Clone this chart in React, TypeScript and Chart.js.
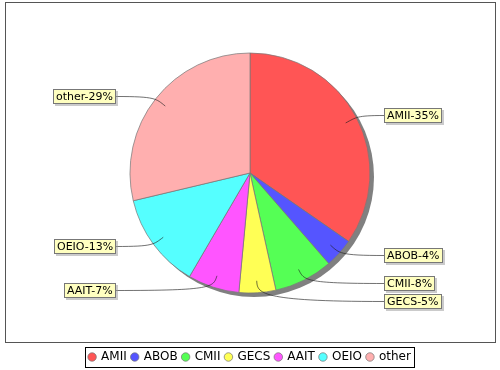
import React, { useEffect, useRef } from "react";
import { Chart, registerables } from "chart.js";

Chart.register(...registerables);

const categories = ["AMII", "ABOB", "CMII", "GECS", "AAIT", "OEIO", "other"];
const values = [35, 4, 8, 5, 7, 13, 29];
const colors = ["#FF5555", "#5555FF", "#55FF55", "#FFFF55", "#FF55FF", "#55FFFF", "#FFAFAF"];

const total = values.reduce((a, b) => a + b, 0);
const labelTexts = categories.map((c, i) => `${c}-${Math.round((values[i] / total) * 100)}%`);

const FONT = "'DejaVu Sans', sans-serif";

const framePlugin = {
  id: "frame",
  beforeDraw(chart: any) {
    const ctx = chart.ctx;
    ctx.save();
    ctx.fillStyle = "#ffffff";
    ctx.fillRect(0, 0, chart.width, chart.height);
    ctx.strokeStyle = "#555555";
    ctx.lineWidth = 1;
    ctx.strokeRect(5.5, 2.5, 490, 340);
    ctx.restore();
  },
};

const shadowPlugin = {
  id: "pieShadow",
  beforeDatasetsDraw(chart: any) {
    const arc = chart.getDatasetMeta(0).data[0];
    if (!arc) return;
    const ctx = chart.ctx;
    ctx.save();
    ctx.fillStyle = "#808080";
    ctx.beginPath();
    ctx.arc(arc.x + 4, arc.y + 4, arc.outerRadius, 0, Math.PI * 2);
    ctx.fill();
    ctx.restore();
  },
};

const labelPlugin = {
  id: "pieLabels",
  afterDatasetsDraw(chart: any) {
    const arcs = chart.getDatasetMeta(0).data;
    if (!arcs.length) return;
    const ctx = chart.ctx;
    const cx = arcs[0].x;
    const cy = arcs[0].y;
    const r = arcs[0].outerRadius;
    ctx.save();
    ctx.font = `11px ${FONT}`;
    const items = arcs.map((arc: any, i: number) => {
      const mid = (arc.startAngle + arc.endAngle) / 2;
      return {
        i,
        mid,
        right: Math.cos(mid) >= 0,
        ly: cy + Math.sin(mid) * r * 1.03,
        text: labelTexts[i],
      };
    });
    const minGap = 18;
    [true, false].forEach((side) => {
      const s = items.filter((it: any) => it.right === side).sort((a: any, b: any) => a.ly - b.ly);
      for (let k = 1; k < s.length; k++) {
        if (s[k].ly < s[k - 1].ly + minGap) s[k].ly = s[k - 1].ly + minGap;
      }
    });
    items.forEach((it: any) => {
      const w = ctx.measureText(it.text).width;
      const boxW = Math.round(w + 6);
      const boxH = 15;
      const boxX = it.right ? Math.round(cx + r + 14) : Math.round(cx - r - 14 - boxW);
      const boxY = Math.round(it.ly - boxH / 2);
      const ay = boxY + boxH / 2;
      const ax = it.right ? boxX : boxX + boxW;
      const ex = cx + Math.cos(it.mid) * r;
      const ey = cy + Math.sin(it.mid) * r;
      const lx = cx + Math.cos(it.mid) * r * 0.9;
      const lyy = cy + Math.sin(it.mid) * r * 0.9;
      ctx.strokeStyle = "rgba(30,30,30,0.9)";
      ctx.lineWidth = 0.7;
      ctx.beginPath();
      ctx.moveTo(ax, ay);
      ctx.bezierCurveTo(ex, ay, ex, ey, lx, lyy);
      ctx.stroke();
      ctx.fillStyle = "rgba(151,151,151,0.5)";
      ctx.fillRect(boxX + 2, boxY + 2, boxW, boxH);
      ctx.fillStyle = "#FFFFC0";
      ctx.fillRect(boxX, boxY, boxW, boxH);
      ctx.strokeStyle = "#777777";
      ctx.lineWidth = 1;
      ctx.strokeRect(boxX + 0.5, boxY + 0.5, boxW - 1, boxH - 1);
      ctx.fillStyle = "#000000";
      ctx.textBaseline = "middle";
      ctx.textAlign = "left";
      ctx.fillText(it.text, boxX + 3, ay + 0.5);
    });
    ctx.restore();
  },
};

const legendBoxPlugin = {
  id: "legendBox",
  afterDraw(chart: any) {
    const lg = chart.legend;
    if (!lg || !lg.legendHitBoxes || !lg.legendHitBoxes.length) return;
    const hb = lg.legendHitBoxes;
    let l = Infinity, rr = -Infinity, t = Infinity, b = -Infinity;
    hb.forEach((h: any) => {
      l = Math.min(l, h.left);
      rr = Math.max(rr, h.left + h.width);
      t = Math.min(t, h.top);
      b = Math.max(b, h.top + h.height);
    });
    const ctx = chart.ctx;
    ctx.save();
    ctx.strokeStyle = "#000000";
    ctx.lineWidth = 1;
    const x0 = Math.round(l - 4) + 0.5;
    const x1 = Math.round(rr + 3) + 0.5;
    const y0 = Math.round(t - 4) + 0.5;
    const y1 = Math.round(b + 4) + 0.5;
    ctx.strokeRect(x0, y0, x1 - x0, y1 - y0);
    ctx.restore();
  },
};

export default function App() {
  const ref = useRef<HTMLCanvasElement | null>(null);
  useEffect(() => {
    document.body.style.margin = "0";
    if (!ref.current) return;
    const chart = new Chart(ref.current, {
      type: "pie",
      data: {
        labels: categories,
        datasets: [
          {
            data: values,
            backgroundColor: colors,
            borderColor: "rgba(120,120,120,0.9)",
            borderWidth: 0.8,
            hoverOffset: 0,
            radius: 120,
          } as any,
        ],
      },
      options: {
        responsive: false,
        animation: false,
        layout: { padding: { top: 0, bottom: -3, left: 0, right: 0 } },
        plugins: {
          legend: {
            display: true,
            position: "bottom",
            labels: {
              usePointStyle: true,
              pointStyle: "circle",
              boxWidth: 6,
              boxHeight: 6,
              padding: 5,
              color: "#000000",
              font: { size: 12, family: FONT },
            },
          },
          tooltip: { enabled: false },
        },
      },
      plugins: [framePlugin, shadowPlugin, labelPlugin, legendBoxPlugin],
    });
    return () => chart.destroy();
  }, []);
  return <canvas ref={ref} width={500} height={370} style={{ display: "block" }} />;
}
